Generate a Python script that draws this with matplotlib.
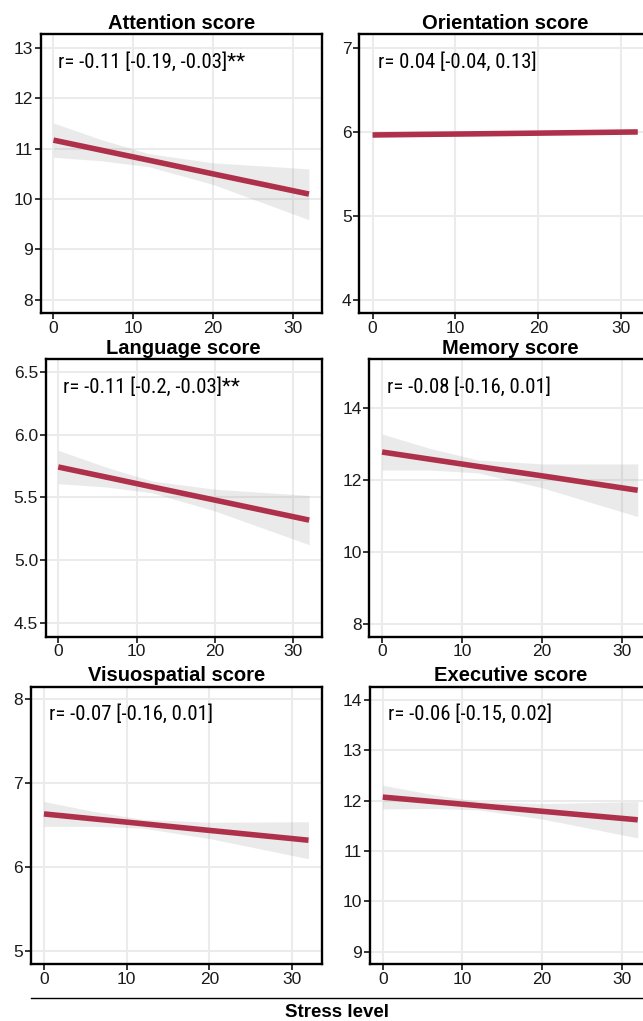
import matplotlib
matplotlib.use("Agg")
import matplotlib.pyplot as plt
from matplotlib import font_manager

# ---------------- data ----------------
titles = ["Attention score", "Orientation score", "Language score",
          "Memory score", "Visuospatial score", "Executive score"]
labels = ["r= -0.11 [-0.19, -0.03]**", "r= 0.04 [-0.04, 0.13]",
          "r= -0.11 [-0.2, -0.03]**", "r= -0.08 [-0.16, 0.01]",
          "r= -0.07 [-0.16, 0.01]", "r= -0.06 [-0.15, 0.02]"]

stress = [0, 6, 12, 20, 32]

attention_fit = [11.17, 10.97, 10.77, 10.50, 10.10]
attention_hi = [11.51, 11.18, 10.90, 10.72, 10.60]
attention_lo = [10.83, 10.76, 10.64, 10.29, 9.59]

orientation_fit = [5.962, 5.969, 5.975, 5.984, 5.998]
orientation_hi = [5.982, 5.982, 5.985, 5.996, 6.018]
orientation_lo = [5.942, 5.956, 5.965, 5.972, 5.978]

language_fit = [5.742, 5.663, 5.583, 5.478, 5.319]
language_hi = [5.875, 5.743, 5.630, 5.565, 5.515]
language_lo = [5.609, 5.583, 5.536, 5.391, 5.123]

memory_fit = [12.77, 12.57, 12.37, 12.11, 11.71]
memory_hi = [13.27, 12.87, 12.55, 12.44, 12.44]
memory_lo = [12.27, 12.27, 12.19, 11.78, 10.98]

visuo_fit = [6.636, 6.577, 6.519, 6.440, 6.323]
visuo_hi = [6.784, 6.666, 6.572, 6.537, 6.543]
visuo_lo = [6.488, 6.488, 6.466, 6.343, 6.103]

exec_fit = [12.07, 11.986, 11.901, 11.789, 11.62]
exec_hi = [12.305, 12.128, 11.985, 11.942, 11.98]
exec_lo = [11.835, 11.844, 11.817, 11.636, 11.26]

x_ticks = [0, 10, 20, 30]
y_ticks = [[8, 9, 10, 11, 12, 13], [4, 5, 6, 7],
           [4.5, 5.0, 5.5, 6.0, 6.5], [8, 10, 12, 14],
           [5, 6, 7, 8], [9, 10, 11, 12, 13, 14]]
y_ticklabels = [["8", "9", "10", "11", "12", "13"], ["4", "5", "6", "7"],
                ["4.5", "5.0", "5.5", "6.0", "6.5"], ["8", "10", "12", "14"],
                ["5", "6", "7", "8"], ["9", "10", "11", "12", "13", "14"]]
y_limits = [(7.74, 13.27), (3.84, 7.16), (4.39, 6.60),
            (7.65, 15.34), (4.85, 8.15), (8.76, 14.26)]

fits = [attention_fit, orientation_fit, language_fit, memory_fit, visuo_fit, exec_fit]
his = [attention_hi, orientation_hi, language_hi, memory_hi, visuo_hi, exec_hi]
los = [attention_lo, orientation_lo, language_lo, memory_lo, visuo_lo, exec_lo]

# ---------------- layout ----------------
W, H = 643, 1021
boxes_px = [(40.7, 34.3, 321.7, 313.0), (359.3, 34.3, 651.0, 313.3),
            (45.7, 359.3, 321.7, 636.7), (369.3, 359.3, 650.5, 636.7),
            (30.7, 686.7, 321.7, 964.0), (370.0, 686.7, 650.5, 964.0)]

entries = font_manager.fontManager.ttflist
avail = {f.name for f in entries}
base_font = "Liberation Sans" if "Liberation Sans" in avail else "DejaVu Sans"

# look for a condensed / narrow sans face for the annotation text
narrow_font, narrow_stretch = base_font, "normal"
for cand in ["Liberation Sans Narrow", "Arial Narrow", "Roboto Condensed",
             "Open Sans Condensed", "Noto Sans Condensed"]:
    if cand in avail:
        narrow_font = cand
        break
else:
    for f in entries:
        st = str(f.stretch)
        if f.name in ("Noto Sans", "Open Sans", "Roboto", "DejaVu Sans") and \
                ("condensed" in st) and f.style == "normal":
            narrow_font, narrow_stretch = f.name, st
            break

plt.rcParams["font.family"] = [base_font, "DejaVu Sans"]

LINE_COLOR = "#AF304B"
GRID_COLOR = "#EBEBEB"

fig = plt.figure(figsize=(W / 100, H / 100), dpi=100)
ann_texts = []

for i in range(6):
    x0, y0, x1, y1 = boxes_px[i]
    ax = fig.add_axes([x0 / W, (H - y1) / H, (x1 - x0) / W, (y1 - y0) / H])
    ax.fill_between(stress, los[i], his[i], color="#999999", alpha=0.2,
                    linewidth=0, zorder=2)
    ax.plot(stress, fits[i], color=LINE_COLOR, linewidth=4, zorder=3,
            solid_capstyle="butt")
    ax.set_xlim(-1.6, 33.6)
    ax.set_ylim(*y_limits[i])
    ax.set_xticks(x_ticks)
    ax.set_xticklabels([str(t) for t in x_ticks])
    ax.set_yticks(y_ticks[i])
    ax.set_yticklabels(y_ticklabels[i])
    ax.set_axisbelow(True)
    ax.grid(True, color=GRID_COLOR, linewidth=1.5)
    for sp in ax.spines.values():
        sp.set_linewidth(1.7)
        sp.set_color("black")
    ax.tick_params(axis="both", direction="out", length=4, width=1.1,
                   colors="black", labelsize=12.5, pad=1.5)
    for lab in ax.get_xticklabels() + ax.get_yticklabels():
        lab.set_color("#1a1a1a")
    ax.set_title(titles[i], fontsize=14.5, fontweight="bold", pad=4)
    t = ax.text(0.063, 0.90, labels[i], transform=ax.transAxes, ha="left",
                va="center", fontsize=15, family=[narrow_font, "DejaVu Sans"],
                fontstretch=narrow_stretch, color="black")
    ann_texts.append(t)

# size the annotation so the first label spans ~187 px like the reference
fig.canvas.draw()
r = fig.canvas.get_renderer()
w0 = ann_texts[0].get_window_extent(renderer=r).width
size = min(15.5, 15 * 187.0 / w0)
for t in ann_texts:
    t.set_fontsize(size)

# bottom shared axis title with rule
fig.add_artist(plt.Line2D([30.7 / W, 1.0], [(H - 998) / H, (H - 998) / H],
                          color="black", linewidth=1.0))
fig.text(337 / W, (H - 1012) / H, "Stress level", ha="center", va="center",
         fontsize=13.5, fontweight="bold")

fig.savefig("out.png", dpi=100)
